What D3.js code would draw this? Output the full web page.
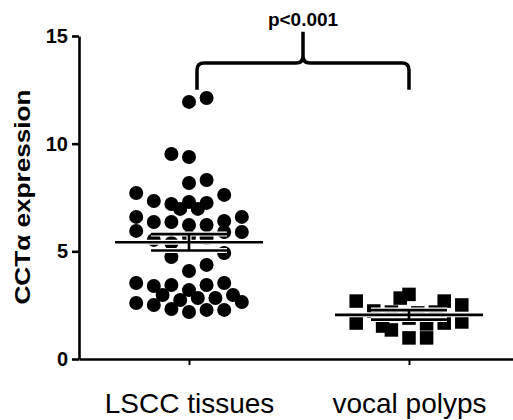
<!DOCTYPE html>
<html>
<head>
<meta charset="utf-8">
<script src="https://cdn.jsdelivr.net/npm/d3@7"></script>
<style>
  body { margin: 0; background: #fff; }
  svg { display: block; font-family: Arial, "Liberation Sans", sans-serif; }
</style>
</head>
<body>
<div id="chart"></div>
<script>
// values
const categories = ['LSCC tissues', 'vocal polyps']
const yTicks = [0, 5, 10, 15]

const lsccValues = [11.94, 12.12, 9.52, 9.38, 8.17, 8.31, 7.62, 7.71, 7.34, 7.2,
  6.97, 7.29, 6.97, 7.25, 6.6, 6.36, 6.36, 6.22, 6.22, 6.41,
  6.6, 5.9, 5.9, 5.95, 5.53, 5.39, 5.67, 5.62, 4.92, 4.74,
  4.09, 4.37, 3.53, 3.39, 3.44, 2.97, 2.6, 2.51, 2.32, 2.74,
  3.2, 2.18, 2.83, 3.44, 2.83, 3.53, 2.97, 2.65, 2.28, 2.28]
const lsccJitter = [0, 2, -2, 0, 0, 2, 4, -6, -4, -2,
  -1, 0, 1, 2, -6, -4, -2, 0, 2, 4,
  6, 6, 4, -6, -4, -2, 0, 2, 4, -2,
  0, 2, -6, -4, -2, -3, -6, -4, -2, -1,
  0, 0, 1, 2, 3, 4, 5, 6, 2, 4]

const polypValues = [2.69, 1.67, 2.23, 1.53, 2.18, 1.35, 2.83, 3.0, 0.98, 0.98,
  2.14, 1.63, 2.18, 2.69, 1.67, 2.51, 1.72, 1.9]
const polypJitter = [-6, -6, -4, -3, -2, -2, -1, 0, 0, 2,
  1, 2, 3, 4, 4, 6, 6, 0]

const means = [5.42, 2.05]
const sems = [0.38, 0.22]
const pLabel = 'p<0.001'

const width = 513
const height = 420

const svg = d3.select('#chart')
  .append('svg')
  .attr('width', width)
  .attr('height', height)

const x = d3.scalePoint()
  .domain(categories)
  .range([79, 519])
  .padding(0.5)

const y = d3.scaleLinear()
  .domain([0, 15])
  .range([359, 36])

const jitter = d3.scaleLinear()
  .domain([-1, 1])
  .range([-8.8, 8.8])

// y axis
const yAxis = svg.append('g')
  .attr('transform', `translate(${x.range()[0]},0)`)
  .call(d3.axisLeft(y).tickValues(yTicks).tickSize(7).tickSizeOuter(0).tickPadding(4))
yAxis.select('.domain').attr('stroke-width', 2.6)
yAxis.selectAll('.tick line').attr('stroke-width', 2.6)
yAxis.selectAll('.tick text')
  .attr('font-size', 20)
  .attr('font-weight', 'bold')
  .attr('fill', '#000')
  .attr('font-family', 'Arial, "Liberation Sans", sans-serif')

// x axis
const xAxis = svg.append('g')
  .attr('transform', `translate(0,${y(0)})`)
  .call(d3.axisBottom(x).tickSize(6).tickSizeOuter(0).tickPadding(28))
xAxis.select('.domain').attr('stroke-width', 2.6)
xAxis.selectAll('.tick line').attr('stroke-width', 2)
xAxis.selectAll('.tick text')
  .attr('font-size', 28)
  .attr('fill', '#000')
  .attr('font-family', 'Arial, "Liberation Sans", sans-serif')

// y axis title
svg.append('text')
  .attr('transform', `translate(30,197) rotate(-90)`)
  .attr('text-anchor', 'middle')
  .attr('font-size', 22)
  .attr('font-weight', 'bold')
  .attr('textLength', 215)
  .attr('lengthAdjust', 'spacingAndGlyphs')
  .text('CCTα expression')

// LSCC dots
const lscc = lsccValues.map((v, i) => ({ v, j: lsccJitter[i] }))
svg.append('g').selectAll('circle')
  .data(lscc)
  .join('circle')
  .attr('cx', (d) => x(categories[0]) + jitter(d.j))
  .attr('cy', (d) => y(d.v))
  .attr('r', 7)
  .attr('fill', '#000')

// polyp squares
const sq = 13.5
const polyps = polypValues.map((v, i) => ({ v, j: polypJitter[i] }))
svg.append('g').selectAll('rect')
  .data(polyps)
  .join('rect')
  .attr('x', (d) => x(categories[1]) + jitter(d.j) - sq / 2)
  .attr('y', (d) => y(d.v) - sq / 2)
  .attr('width', sq)
  .attr('height', sq)
  .attr('fill', '#000')

// mean +/- SEM lines, white halo under black line
const meanHalf = 74
const semHalf = 38
const bars = categories.map((c, i) => ({ c, m: means[i], s: sems[i] }))
const segs = []
bars.forEach((b) => {
  const cx = x(b.c)
  segs.push({ x1: cx - meanHalf, x2: cx + meanHalf, y1: y(b.m), y2: y(b.m) })
  segs.push({ x1: cx - semHalf, x2: cx + semHalf, y1: y(b.m + b.s), y2: y(b.m + b.s) })
  segs.push({ x1: cx - semHalf, x2: cx + semHalf, y1: y(b.m - b.s), y2: y(b.m - b.s) })
  segs.push({ x1: cx, x2: cx, y1: y(b.m + b.s), y2: y(b.m - b.s) })
})
const lines = svg.append('g')
lines.selectAll('line.halo')
  .data(segs)
  .join('line')
  .attr('class', 'halo')
  .attr('x1', (d) => d.x1).attr('x2', (d) => d.x2)
  .attr('y1', (d) => d.y1).attr('y2', (d) => d.y2)
  .attr('stroke', '#fff')
  .attr('stroke-width', 5)
lines.selectAll('line.bar')
  .data(segs)
  .join('line')
  .attr('class', 'bar')
  .attr('x1', (d) => d.x1).attr('x2', (d) => d.x2)
  .attr('y1', (d) => d.y1).attr('y2', (d) => d.y2)
  .attr('stroke', '#000')
  .attr('stroke-width', 2.6)

// significance brace
const bl = x(categories[0]) + 8
const br = x(categories[1])
const bm = (bl + br) / 2
const by = y(13.75)
const legY = y(12.5)
const topY = y(15.2)
const rr = 7
svg.append('path')
  .attr('d', `M${bl},${legY} L${bl},${by + rr} Q${bl},${by} ${bl + rr},${by}
    L${bm - rr},${by} Q${bm},${by} ${bm},${by - rr} L${bm},${topY}
    M${bm},${by - rr} Q${bm},${by} ${bm + rr},${by}
    L${br - rr},${by} Q${br},${by} ${br},${by + rr} L${br},${legY}`)
  .attr('fill', 'none')
  .attr('stroke', '#000')
  .attr('stroke-width', 3.5)

svg.append('text')
  .attr('x', bm)
  .attr('y', 26)
  .attr('text-anchor', 'middle')
  .attr('font-size', 19)
  .attr('font-weight', 'bold')
  .text(pLabel)
</script>
</body>
</html>
